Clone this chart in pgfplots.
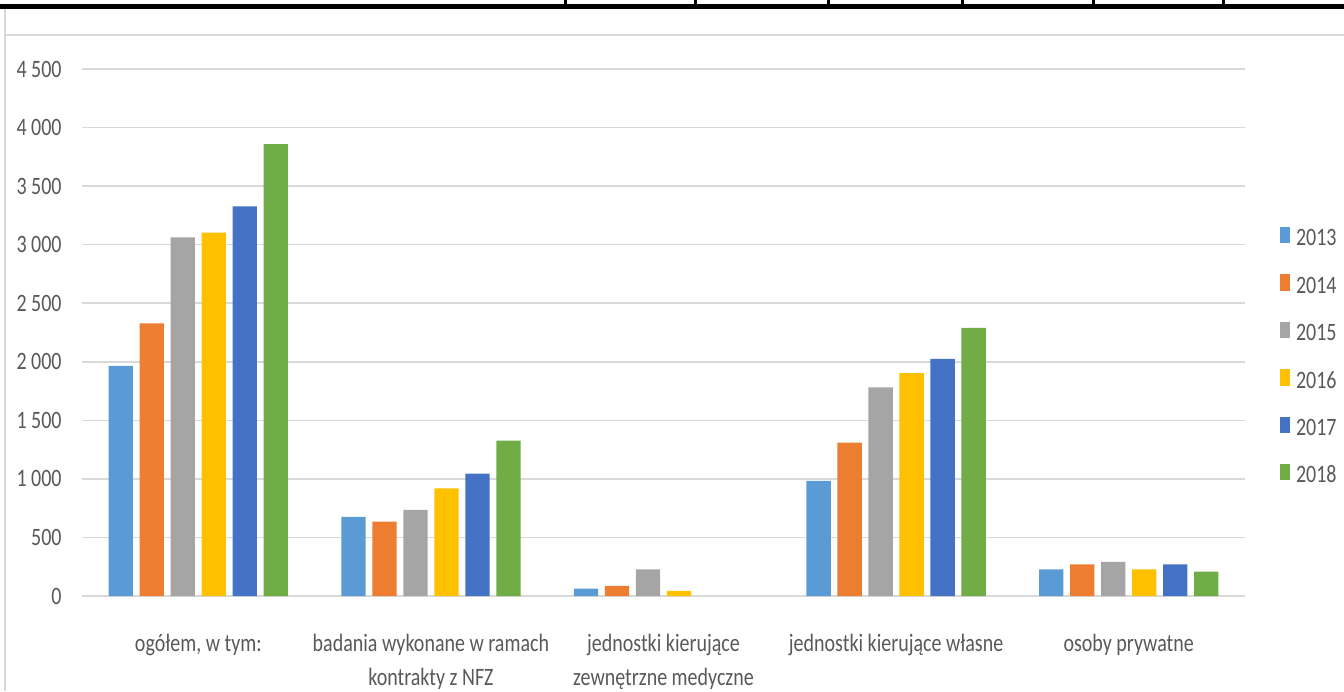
\documentclass[border=0pt]{standalone}
\usepackage{fontspec}
\setmainfont[FakeStretch=0.8]{Carlito}
\usepackage{pgfplots}
\pgfplotsset{compat=1.18}
\definecolor{c13}{HTML}{5B9BD5}
\definecolor{c14}{HTML}{ED7D31}
\definecolor{c15}{HTML}{A5A5A5}
\definecolor{c16}{HTML}{FFC000}
\definecolor{c17}{HTML}{4472C4}
\definecolor{c18}{HTML}{70AD47}
\definecolor{gridgrey}{HTML}{D9D9D9}
\definecolor{txtgrey}{HTML}{595959}
\begin{document}
\begin{tikzpicture}
\path[use as bounding box] (0pt,0pt) rectangle (672pt,345.5pt);
% page decorations
\fill[black] (0pt,341.15pt) rectangle (672pt,343.5pt);
\foreach \xx in {282.5,347.5,414,481,546.5,611.5}{
  \fill[black] (\xx pt-0.75pt,343pt) rectangle (\xx pt+0.75pt,345.5pt);
}
\draw[gridgrey, line width=1pt] (2.5pt,341pt) -- (2.5pt,0pt);
\draw[gridgrey, line width=1.25pt] (2.5pt,328pt) -- (672pt,328pt);
\begin{axis}[
  at={(41pt,47.5pt)}, anchor=south west,
  scale only axis, width=581.5pt, height=263.5pt,
  ybar=3.35pt, bar width=12.15pt,
  xmin=-0.5, xmax=4.5, ymin=0, ymax=4500,
  axis line style={draw=none},
  ymajorgrids, grid style={gridgrey, line width=0.75pt},
  major tick style={draw=none},
  ytick={0,500,...,4500},
  yticklabels={0,500,1 000,1 500,2 000,2 500,3 000,3 500,4 000,4 500},
  xtick={0,1,2,3,4},
  xticklabels={{ogółem, w tym:},{badania wykonane w ramach\\kontrakty z NFZ},{jednostki kierujące\\zewnętrzne medyczne},{jednostki kierujące własne},{osoby prywatne}},
  tick label style={font=\fontsize{12.5}{17.2}\selectfont, text=txtgrey},
  yticklabel style={anchor=east, inner sep=0pt, xshift=-10pt},
  xticklabel style={anchor=north, inner sep=0pt, align=center, yshift=-14.6pt},
  legend style={draw=none, fill=none, at={(1.0301,0.7002)}, anchor=north west,
    inner sep=0pt, outer sep=0pt, row sep=14.25pt, column sep=3pt,
    font=\fontsize{12.5}{15}\selectfont, text=txtgrey,
    nodes={inner sep=0pt, text height=8.5pt, text depth=0pt}},
  legend cell align=left,
  legend image code/.code={\fill[#1] (0pt,-3pt) rectangle (5pt,5.2pt);},
  every axis plot/.append style={draw=none},
]
\addplot[fill=c13] coordinates {(0,1965) (1,676) (2,62) (3,982) (4,228)};
\addplot[fill=c14] coordinates {(0,2329) (1,636) (2,86) (3,1310) (4,269)};
\addplot[fill=c15] coordinates {(0,3062) (1,736) (2,228) (3,1781) (4,291)};
\addplot[fill=c16] coordinates {(0,3102) (1,919) (2,43) (3,1904) (4,228)};
\addplot[fill=c17] coordinates {(0,3327) (1,1045) (3,2024) (4,269)};
\addplot[fill=c18] coordinates {(0,3858) (1,1327) (3,2289) (4,209)};
\legend{2013,2014,2015,2016,2017,2018}
\end{axis}
\end{tikzpicture}
\end{document}
